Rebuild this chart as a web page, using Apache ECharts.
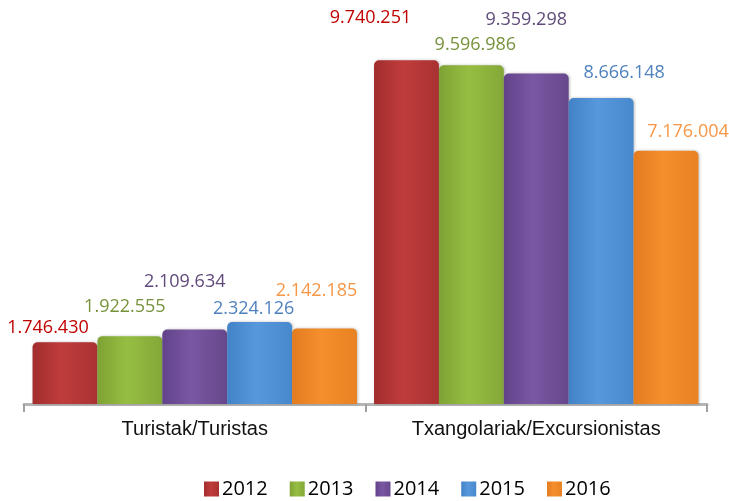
<!DOCTYPE html>
<html>
<head>
<meta charset="utf-8">
<script src="https://cdn.jsdelivr.net/npm/echarts@6/dist/echarts.min.js"></script>
<style>
  html, body { margin: 0; padding: 0; background: #fff; }
  #chart { width: 729px; height: 501px; }
</style>
</head>
<body>
<div id="chart"></div>
<script>
// categorías del eje x
const categories = ['Turistak/Turistas', 'Txangolariak/Excursionistas']
// un array por año: [turistas, excursionistas]
const years = ['2012', '2013', '2014', '2015', '2016']
const v2012 = [1746430, 9740251]
const v2013 = [1922555, 9596986]
const v2014 = [2109634, 9359298]
const v2015 = [2324126, 8666148]
const v2016 = [2142185, 7176004]
const seriesValues = [v2012, v2013, v2014, v2015, v2016]

// colores de barra (borde oscuro, centro claro) y de etiqueta
const barColors = [
  ['#A22D2D', '#C03C3C', '#AA3232'],
  ['#7EA234', '#96BE42', '#84A838'],
  ['#62438A', '#7A57A2', '#67478C'],
  ['#4282C6', '#5797DC', '#4888CC'],
  ['#E27C20', '#F58E2C', '#E88222']
]
const labelColors = ['#C00000', '#77933C', '#604A7B', '#4F81BD', '#F79646']
// desplazamiento manual de cada etiqueta (como en el original de Excel)
const labelOffsets = [
  [[-17, 0], [-36, -28]],
  [[-5, -15], [4, -6]],
  [[-10, -34], [-10, -40]],
  [[-6, 1], [23, -11]],
  [[-8, -24], [22, -5]]
]

const fmt = (n) => String(n).replace(/\B(?=(\d{3})+(?!\d))/g, '.')

const chart = echarts.init(document.getElementById('chart'))

const series = years.map((y, i) => ({
  name: y,
  type: 'bar',
  barGap: 0,
  barCategoryGap: '5%',
  data: seriesValues[i].map((v, j) => ({
    value: v,
    label: { offset: labelOffsets[i][j] }
  })),
  itemStyle: {
    color: new echarts.graphic.LinearGradient(0, 0, 1, 0, [
      { offset: 0, color: barColors[i][0] },
      { offset: 0.45, color: barColors[i][1] },
      { offset: 1, color: barColors[i][2] }
    ]),
    borderRadius: [5, 5, 0, 0],
    shadowColor: 'rgba(0,0,0,0.25)',
    shadowBlur: 3,
    shadowOffsetX: 1
  },
  label: {
    show: true,
    position: 'top',
    distance: 5,
    color: labelColors[i],
    fontFamily: 'Open Sans',
    fontSize: 18,
    formatter: (p) => fmt(p.value)
  }
}))

const option = {
  animation: false,
  color: barColors.map((c) => c[1]),
  grid: { left: 24, right: 22, top: 51, bottom: 97 },
  legend: {
    bottom: -3,
    left: 199,
    itemWidth: 15,
    itemHeight: 15,
    itemGap: 22,
    icon: 'rect',
    textStyle: { fontFamily: 'Open Sans', fontSize: 20, color: '#000', padding: [0, 0, 0, -2] },
    data: years
  },
  xAxis: {
    type: 'category',
    data: categories,
    axisLine: { lineStyle: { color: '#B5B5B5', width: 3 } },
    axisTick: { show: true, alignWithLabel: false, length: 8, lineStyle: { color: '#A0A0A0', width: 2 } },
    axisLabel: {
      margin: 15,
      fontFamily: 'Liberation Sans',
      fontSize: 20,
      color: '#111'
    }
  },
  yAxis: {
    type: 'value',
    min: 0,
    max: 10000000,
    show: false,
    splitLine: { show: false }
  },
  series: series
}

chart.setOption(option)
</script>
</body>
</html>
